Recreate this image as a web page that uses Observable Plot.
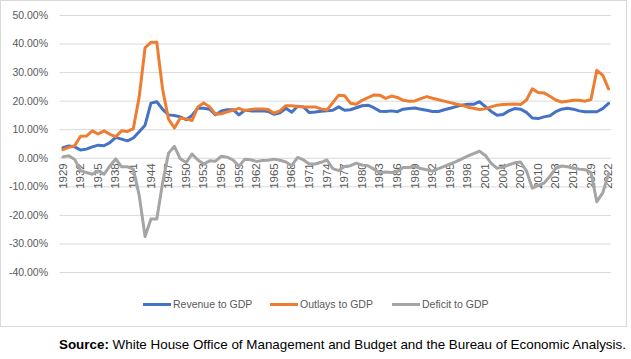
<!DOCTYPE html>
<html><head><meta charset="utf-8">
<script src="https://cdn.jsdelivr.net/npm/d3@7"></script>
<script src="https://cdn.jsdelivr.net/npm/@observablehq/plot@0.6"></script>
<style>
body{margin:0;background:#fff;}
#wrap{position:relative;width:631px;height:359px;background:#fff;font-family:"Liberation Sans",Arial,sans-serif;overflow:hidden;}
#border{position:absolute;left:0;top:0;width:627px;height:327px;border:1px solid #D9D9D9;box-sizing:border-box;}
#chart{position:absolute;left:0;top:0;}
.lg-line{position:absolute;height:3px;width:28px;top:302.5px;}
.lg-text{position:absolute;top:297px;font-size:10.5px;color:#595959;line-height:14px;white-space:nowrap;}
#source{position:absolute;left:59px;top:336px;font-size:13.4px;color:#000;white-space:nowrap;line-height:17px;}
</style></head>
<body>
<div id="wrap">
  <div id="border"></div>
  <div id="chart"></div>
  <div class="lg-line" style="left:143px;background:#4472C4"></div><div class="lg-text" style="left:173px">Revenue to GDP</div>
  <div class="lg-line" style="left:270px;background:#ED7D31"></div><div class="lg-text" style="left:300px">Outlays to GDP</div>
  <div class="lg-line" style="left:392px;background:#A5A5A5"></div><div class="lg-text" style="left:422px">Deficit to GDP</div>
  <div id="source"><b>Source:</b> White House Office of Management and Budget and the Bureau of Economic Analysis.</div>
</div>
<script>
const years = d3.range(1929, 2023);
const revenue = [
 3.7,4.3,4.0,2.9,3.2,4.0,4.6,4.4,5.5,7.3,
 6.7,6.1,7.1,9.3,11.6,19.3,19.8,17.1,15.2,15.0,
 14.5,13.5,15.0,17.6,17.5,17.2,15.2,16.6,17.0,17.0,
 15.2,16.8,16.6,16.6,16.6,16.4,15.4,15.9,17.5,16.1,
 18.2,18.0,16.0,16.2,16.5,16.6,16.8,18.0,16.8,17.0,
 17.7,18.4,18.6,17.7,16.5,16.4,16.6,16.3,17.2,17.4,
 17.6,17.2,16.8,16.4,16.4,17.0,17.5,18.1,18.6,18.9,
 18.9,19.8,18.1,16.4,15.1,15.3,16.6,17.4,17.2,16.1,
 14.1,13.9,14.5,14.9,16.3,17.2,17.5,17.2,16.6,16.3,
 16.3,16.3,17.4,19.2];
const outlays = [
 3.0,3.8,4.4,7.7,7.8,9.6,8.5,9.6,8.4,7.6,
 9.6,9.4,10.4,21.5,38.7,40.6,40.6,24.0,13.7,10.6,
 14.1,13.8,13.2,18.0,19.4,18.0,15.4,15.6,16.3,16.8,
 17.5,16.7,17.1,17.3,17.3,17.1,15.8,16.6,18.4,18.4,
 18.1,18.0,18.0,18.0,17.3,16.9,19.5,22.1,21.9,19.3,
 18.9,20.3,21.2,22.2,22.1,21.0,21.8,21.3,20.3,20.0,
 20.1,20.9,21.6,21.0,20.5,20.0,19.5,19.0,18.6,17.9,
 17.5,17.1,17.3,18.0,18.6,18.8,18.9,19.0,18.8,20.4,
 24.3,23.0,22.9,21.7,20.4,19.7,20.0,20.3,20.3,20.0,
 20.6,30.8,29.1,24.3];
const deficit = [
 0.5,0.9,-0.4,-4.3,-5.0,-5.6,-4.4,-5.6,-2.7,-0.2,
 -3.0,-3.0,-3.8,-13.0,-27.4,-21.3,-21.3,-8.5,1.8,4.2,
 -0.2,-1.5,1.5,-0.6,-2.0,-0.9,-1.0,0.7,0.4,-0.6,
 -2.8,-0.3,-0.5,-1.1,-0.8,-0.7,-0.3,-0.7,-1.3,-2.6,
 0.3,-0.6,-2.0,-2.0,-1.4,-0.6,-3.6,-4.3,-2.9,-2.6,
 -1.7,-2.4,-2.6,-3.8,-5.1,-4.8,-5.0,-4.6,-3.2,-3.2,
 -2.9,-3.6,-4.0,-4.5,-3.6,-2.8,-2.0,-1.2,-0.2,0.8,
 1.6,2.5,1.0,-1.8,-3.5,-3.1,-2.3,-1.6,-1.3,-4.4,
 -10.5,-9.5,-8.7,-6.3,-3.5,-2.7,-3.0,-3.4,-3.8,-4.0,
 -5.0,-15.2,-12.1,-5.5];
const xTickLabels = ["1929","1932","1935","1938","1941","1944","1947","1950","1953","1956","1959","1962","1965","1968","1971","1974","1977","1980","1983","1986","1989","1992","1995","1998","2001","2004","2007","2010","2013","2016","2019","2022"];
const yTicks = [-40,-30,-20,-10,0,10,20,30,40,50];

const rows = arr => years.map((year, i) => ({year, value: arr[i]}));
const font = "Liberation Sans, Arial, sans-serif";

const chart = Plot.plot({
  width: 631, height: 327,
  marginLeft: 59.5, marginRight: 20, marginTop: 15, marginBottom: 55,
  x: {type: "linear", domain: [1928.5, 2022.5], axis: null},
  y: {domain: [-40, 50], axis: null},
  style: {fontFamily: font, background: "transparent", overflow: "visible"},
  marks: [
    Plot.gridY(yTicks, {stroke: "#D9D9D9", strokeOpacity: 1, strokeWidth: 1}),
    Plot.axisY(yTicks, {tickSize: 0, tickPadding: 12, label: null, tickFormat: d => d.toFixed(2) + "%", fill: "#595959", fontSize: 10.5}),
    Plot.text(xTickLabels, {x: d => +d, y: () => 0, text: d => d, rotate: -90, textAnchor: "end", dy: 5, fill: "#595959", fontSize: 11.5}),
    Plot.line(rows(revenue), {x: "year", y: "value", stroke: "#4472C4", strokeWidth: 3, strokeLinejoin: "round", strokeLinecap: "round"}),
    Plot.line(rows(outlays), {x: "year", y: "value", stroke: "#ED7D31", strokeWidth: 3, strokeLinejoin: "round", strokeLinecap: "round"}),
    Plot.line(rows(deficit), {x: "year", y: "value", stroke: "#A5A5A5", strokeWidth: 3, strokeLinejoin: "round", strokeLinecap: "round"})
  ]
});
document.getElementById("chart").appendChild(chart);
</script>
</body></html>
